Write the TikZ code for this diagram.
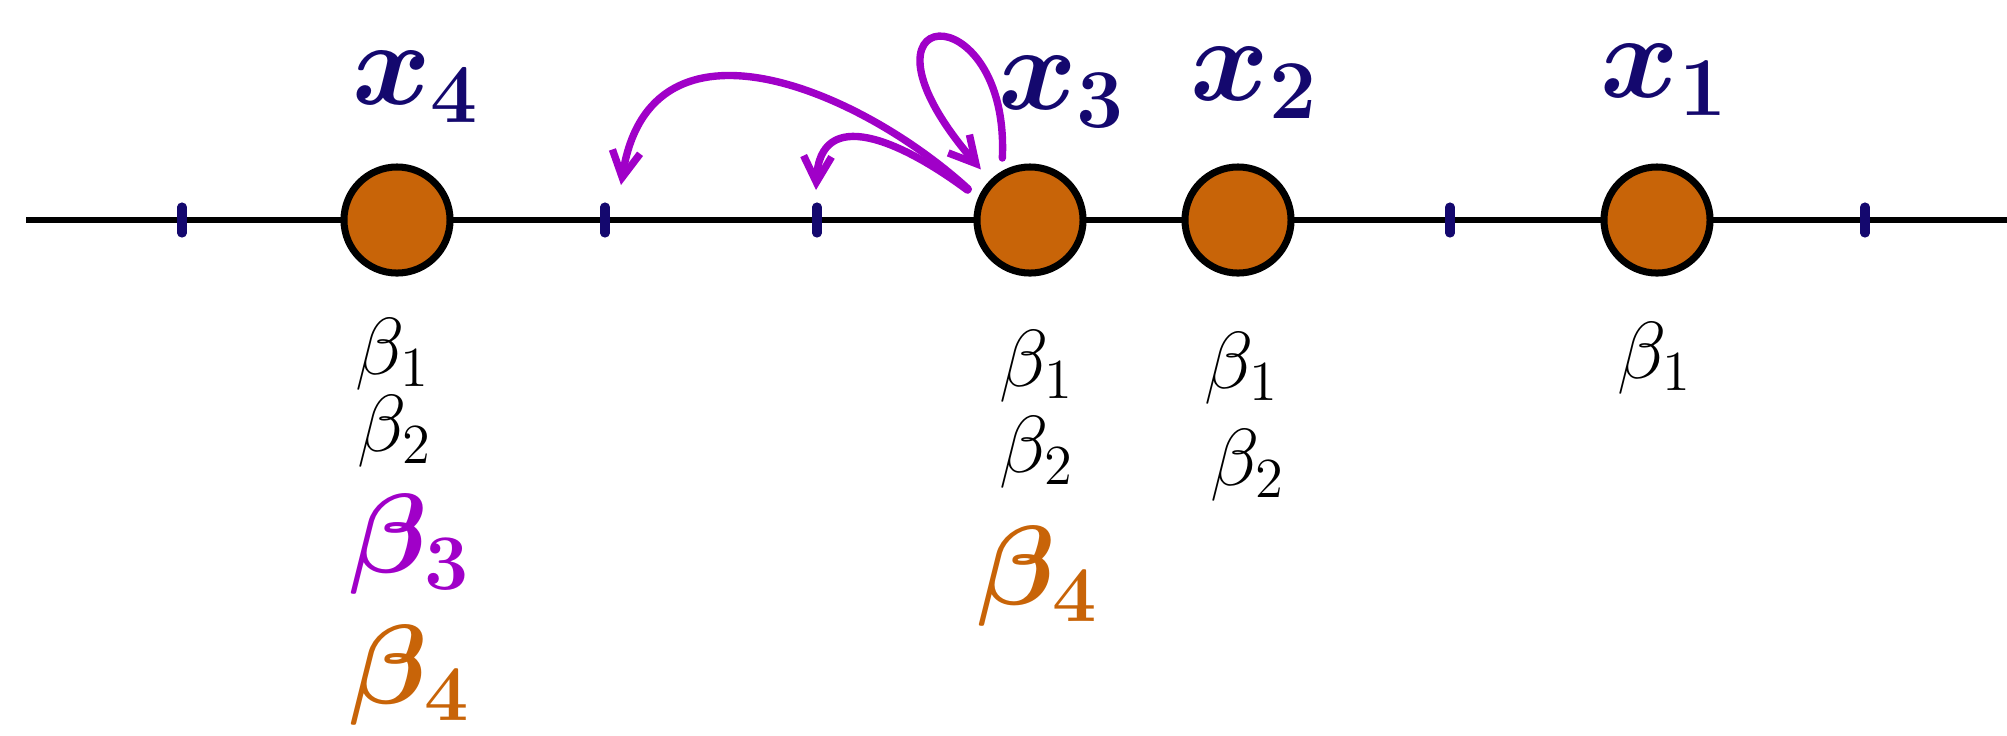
\RequirePackage{fix-cm}
\documentclass[tikz,border=0pt]{standalone}
\usepackage{amsmath,amssymb}
\usepackage{bm}
\usepackage{tikz}
\usetikzlibrary{arrows.meta,positioning}
\usepackage{xcolor}
\definecolor{inknavy}{RGB}{20,8,110}
\definecolor{inkorange}{RGB}{200,100,8}
\definecolor{inkpurple}{RGB}{160,0,200}

\begin{document}
\begin{tikzpicture}[x=0.01cm, y=-0.01cm,
    ball/.style={circle, draw=black, line width=2pt, fill=inkorange,
        minimum size=1.06cm, inner sep=0pt},
    tickmark/.style={inknavy, line width=2.6pt, line cap=round},
    xlab/.style={inknavy, font=\fontsize{34}{34}\selectfont},
    blab/.style={inner sep=0pt, font=\fontsize{23}{23}\selectfont},
    bbig/.style={inner sep=0pt, font=\fontsize{32}{32}\selectfont},
    arr/.style={-{Straight Barb[length=2.6mm, width=2.8mm]}, line width=2.1pt,
        inkpurple, line cap=round}
]
    \useasboundingbox (0,0) rectangle (2007,735);
    % number line
    \coordinate (lft) at (26,220);
    \coordinate (rgt) at (2007,220);
    \draw[line width=1.8pt] (lft) -- (rgt);
    \foreach \t in {182,605,817,1450,1865}
        \draw[tickmark] (\t,207) -- (\t,233);

    % points
    \node[ball] (c4) at (397,220) {};
    \node[ball] (c3) at (1030,220) {};
    \node[ball] (c2) at (1238,220) {};
    \node[ball] (c1) at (1657,220) {};

    \node[xlab] (x4) at (416,87) {$\bm{x_4}$};
    \node[xlab] (x3) at (1062,92) {$\bm{x_3}$};
    \node[xlab] (x2) at (1254,83) {$\bm{x_2}$};
    \node[xlab] (x1) at (1664,80) {$\bm{x_1}$};

    % betas
    \node[blab] (b41) at (393,354) {$\beta_1$};
    \node[blab] (b42) at (395,431) {$\beta_2$};
    \node[bbig, inkpurple] (b43) at (410,544) {$\bm{\beta_3}$};
    \node[bbig, inkorange] (b44) at (410,675) {$\bm{\beta_4}$};

    \node[blab] (b31) at (1037,366) {$\beta_1$};
    \node[blab] (b32) at (1037,452) {$\beta_2$};
    \node[bbig, inkorange] (b34) at (1038,576) {$\bm{\beta_4}$};

    \node[blab] (b21) at (1242,368) {$\beta_1$};
    \node[blab] (b22) at (1248,465) {$\beta_2$};

    \node[blab] (b11) at (1655,358) {$\beta_1$};

    % moves of x3
    \coordinate (tipA) at (621,185);
    \coordinate (tipB) at (816,190);
    \draw[arr, shorten <=1.3mm] (c3.157) .. controls (860,90) and (650,0) .. (tipA);
    \draw[arr, shorten <=1.3mm] (c3.157) .. controls (900,140) and (820,105) .. (tipB);
    \draw[arr, shorten <=1.3mm, shorten >=1.4mm] (c3.120) .. controls (1010,-10) and (835,0) .. (c3.135);
\end{tikzpicture}
\end{document}
